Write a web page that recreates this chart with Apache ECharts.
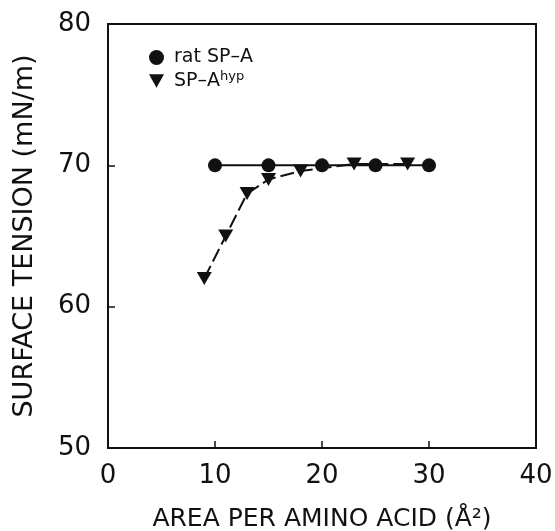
<!DOCTYPE html>
<html>
<head>
<meta charset="utf-8">
<script src="https://cdn.jsdelivr.net/npm/echarts@6/dist/echarts.min.js"></script>
<style>
html, body { margin: 0; padding: 0; background: #fff; }
#chart { width: 555px; height: 531px; }
</style>
</head>
<body>
<div id="chart"></div>
<script>
// data
var ratArea = [10, 15, 20, 25, 30];
var ratTension = [70, 70, 70, 70, 70];
var hypArea = [9, 11, 13, 15, 18, 23, 28];
var hypTension = [62, 65, 68, 69, 69.6, 70.1, 70.1];
var xTicks = [0, 10, 20, 30, 40];
var yTicks = [50, 60, 70, 80];

var downTri = 'path://M0,0 L10,0 L5,9 Z';
var font = 'DejaVu Sans';

function pairs(xs, ys) {
    var out = [];
    for (var i = 0; i < xs.length; i++) out.push([xs[i], ys[i]]);
    return out;
}

var chart = echarts.init(document.getElementById('chart'));
var option = {
    animation: false,
    backgroundColor: '#fff',
    grid: {
        left: 108, top: 24, right: 19, bottom: 83,
        outerBoundsMode: 'none',
        show: true, borderColor: '#111', borderWidth: 2
    },
    legend: {
        orient: 'vertical',
        left: 144, top: 43,
        itemWidth: 15, itemHeight: 15, itemGap: 3,
        textStyle: {
            fontFamily: font, fontSize: 19, color: '#111', padding: [0, 0, 0, 5],
            rich: { sup: { fontSize: 13, verticalAlign: 'top', padding: [0, 0, 9, 0], fontFamily: font, color: '#111' } }
        },
        formatter: function (name) {
            return name === 'hyp' ? 'SP\u2013A{sup|hyp}' : 'rat SP\u2013A';
        },
        data: [
            { name: 'rat', icon: 'circle' },
            { name: 'hyp', icon: downTri }
        ]
    },
    xAxis: {
        type: 'value',
        min: xTicks[0], max: xTicks[xTicks.length - 1], interval: 10,
        name: 'AREA PER AMINO ACID (\u00c5\u00b2)',
        nameLocation: 'middle', nameGap: 59,
        nameTextStyle: { fontFamily: font, fontSize: 25, color: '#111' },
        axisLine: { lineStyle: { color: '#111', width: 2 } },
        axisTick: { inside: true, length: 7, lineStyle: { color: '#111', width: 1.5 } },
        axisLabel: { fontFamily: font, fontSize: 26, color: '#111', margin: 15 },
        splitLine: { show: false }
    },
    yAxis: {
        type: 'value',
        min: yTicks[0], max: yTicks[yTicks.length - 1], interval: 10,
        name: 'SURFACE TENSION (mN/m)',
        nameLocation: 'middle', nameGap: 70,
        nameTextStyle: { fontFamily: font, fontSize: 27, color: '#111' },
        axisLine: { lineStyle: { color: '#111', width: 2 } },
        axisTick: { inside: true, length: 7, lineStyle: { color: '#111', width: 1.5 } },
        axisLabel: { fontFamily: font, fontSize: 26, color: '#111', margin: 17 },
        splitLine: { show: false }
    },
    series: [
        {
            name: 'rat',
            type: 'line',
            data: pairs(ratArea, ratTension),
            symbol: 'circle', symbolSize: 14,
            lineStyle: { color: '#111', width: 2 },
            itemStyle: { color: '#111' }
        },
        {
            name: 'hyp',
            type: 'line',
            data: pairs(hypArea, hypTension),
            symbol: downTri, symbolSize: [15, 13],
            lineStyle: { color: '#111', width: 2, type: [14, 5] },
            itemStyle: { color: '#111' }
        }
    ]
};
chart.setOption(option);
</script>
</body>
</html>
